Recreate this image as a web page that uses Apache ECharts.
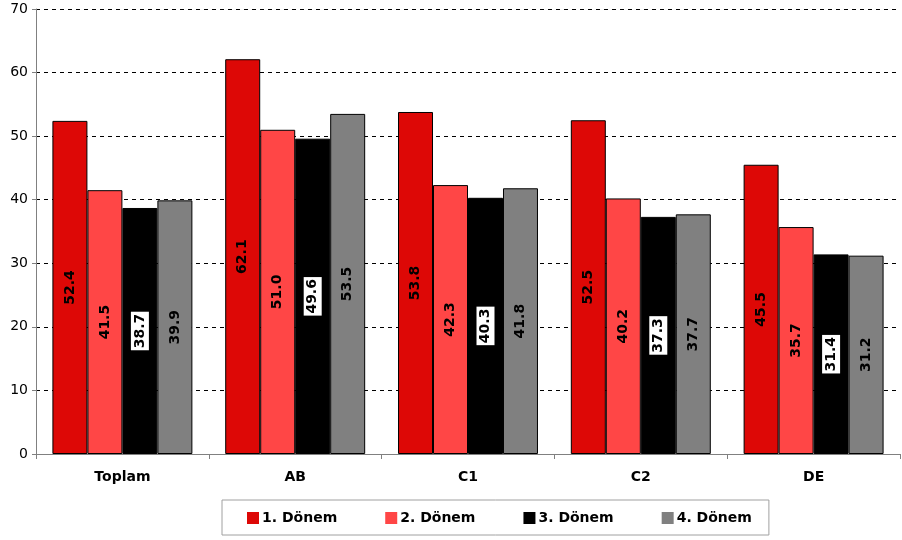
<!DOCTYPE html>
<html>
<head>
<meta charset="utf-8">
<script src="https://cdn.jsdelivr.net/npm/echarts@6/dist/echarts.min.js"></script>
<style>
html,body{margin:0;padding:0;background:#fff;}
#chart{width:902px;height:540px;}
</style>
</head>
<body>
<div id="chart"></div>
<script>
const categories = ['Toplam', 'AB', 'C1', 'C2', 'DE'];
const seriesNames = ['1. Dönem', '2. Dönem', '3. Dönem', '4. Dönem'];
const donem1 = [52.4, 62.1, 53.8, 52.5, 45.5];
const donem2 = [41.5, 51.0, 42.3, 40.2, 35.7];
const donem3 = [38.7, 49.6, 40.3, 37.3, 31.4];
const donem4 = [39.9, 53.5, 41.8, 37.7, 31.2];
const colors = ['#dd0806', '#ff4646', '#000000', '#808080'];

const values = [donem1, donem2, donem3, donem4];
const FONT = 'DejaVu Sans';

const series = values.map((data, i) => ({
  name: seriesNames[i],
  type: 'bar',
  data: data,
  barGap: '0%',
  barCategoryGap: '19%',
  itemStyle: { color: colors[i], borderColor: '#000', borderWidth: 1 },
  label: {
    show: true,
    position: 'inside',
    rotate: 90,
    formatter: p => p.value.toFixed(1),
    fontFamily: FONT,
    fontWeight: 'bold',
    fontSize: 14,
    color: '#000',
    backgroundColor: i === 2 ? '#fff' : 'transparent',
    borderColor: i === 2 ? '#000' : 'transparent',
    borderWidth: i === 2 ? 1 : 0,
    padding: i === 2 ? [3, 2, 1, 2] : 0
  }
}));

const chart = echarts.init(document.getElementById('chart'));
chart.setOption({
  animation: false,
  backgroundColor: '#fff',
  color: colors,
  grid: { left: 36, right: 2, top: 9, bottom: 86, containLabel: false },
  xAxis: {
    type: 'category',
    data: categories,
    axisLine: { show: true, lineStyle: { color: '#808080', width: 1 } },
    axisTick: { show: true, alignWithLabel: false, length: 5, lineStyle: { color: '#808080' } },
    axisLabel: { fontFamily: FONT, fontWeight: 'bold', fontSize: 14, color: '#000', margin: 16 }
  },
  yAxis: {
    type: 'value',
    min: 0,
    max: 70,
    interval: 10,
    axisLine: { show: true, lineStyle: { color: '#808080', width: 1 } },
    axisTick: { show: true, length: 4, lineStyle: { color: '#808080' } },
    axisLabel: { fontFamily: FONT, fontSize: 14, color: '#000', margin: 8 },
    splitLine: { show: true, lineStyle: { color: '#000', type: [4, 4], width: 1 } }
  },
  legend: {
    data: seriesNames,
    left: 222,
    top: 500,
    itemGap: 48,
    itemWidth: 12,
    itemHeight: 12,
    padding: [11, 17, 10, 25],
    borderColor: '#a0a0a0',
    borderWidth: 1,
    icon: 'rect',
    textStyle: { fontFamily: FONT, fontWeight: 'bold', fontSize: 14, color: '#000', padding: [0, 0, 0, -2] },
    itemStyle: { borderWidth: 0 }
  },
  series: series
});
</script>
</body>
</html>
